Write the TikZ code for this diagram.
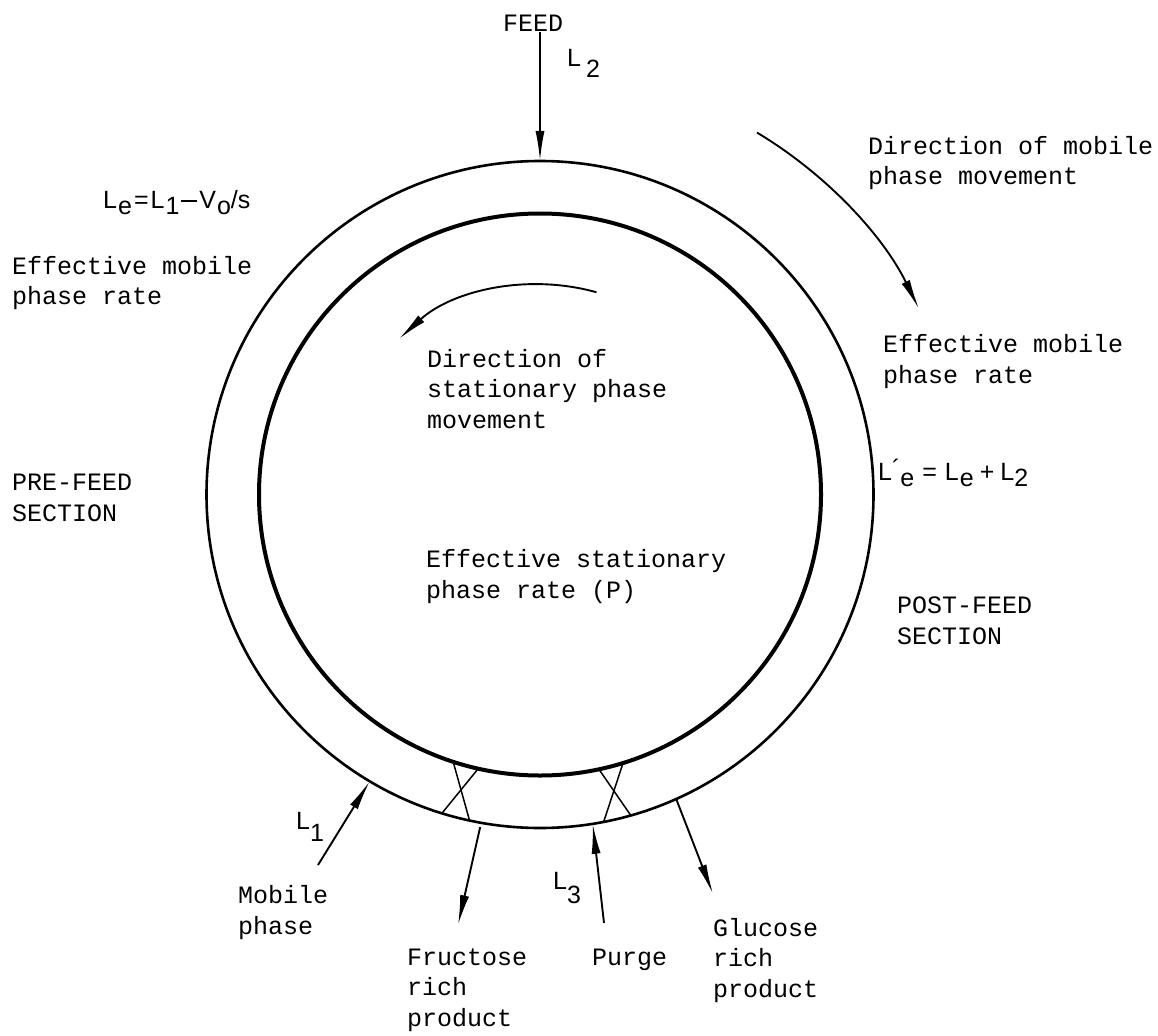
\documentclass[tikz,border=0pt]{standalone}
\usepackage{fontspec}
\newfontfamily\mono{Liberation Mono}
\newfontfamily\lsans{Liberation Sans}
\usetikzlibrary{arrows.meta,calc}
\newcommand{\dn}[2]{\raisebox{-#1}{#2}}
\newcommand{\minusbar}{\rule[6.5pt]{16pt}{1.9pt}}
\tikzset{
  txt/.style={font=\mono\fontsize{25}{30.5}\selectfont, inner sep=0pt, align=left, anchor=base west},
  lab/.style={font=\lsans\fontsize{25}{28}\selectfont, inner sep=0pt, anchor=base west},
  ring/.style={line width=2.6pt},
  ringin/.style={line width=4pt},
  arr/.style={line width=1.9pt, -{Latex[length=30pt,width=9pt]}},
  cross/.style={line width=1.5pt},
}
\begin{document}
\begin{tikzpicture}[x=1pt,y=-1pt]
\useasboundingbox (0,0) rectangle (1158,1035);
\coordinate (c) at (540,494.5);
% rings
\draw[ring] (c) circle[radius=333.5];
\draw[ringin] (c) circle[radius=281];
% texts (multi-line nodes are placed at the baseline of their last line)
\node[txt, anchor=base] (feed) at (533,32) {FEED};
\node[lab] (l2) at (567,67) {L\hspace{5pt}\dn{11pt}{2}};
\node[lab] (le) at (103,208) {L\hspace{1pt}\dn{6pt}{e}\hspace{2pt}=\hspace{2pt}L\hspace{1pt}\dn{6pt}{1}\hspace{2pt}\minusbar\hspace{2pt}V\hspace{1pt}\dn{6pt}{o}/s};
\node[txt] (effL) at (12,304.5) {Effective mobile\\phase rate};
\node[txt] (pre) at (12,521) {PRE-FEED\\SECTION};
\node[txt] (dirM) at (868,185) {Direction of mobile\\phase movement};
\node[txt] (effR) at (883,383) {Effective mobile\\phase rate};
\node[lab] (lep) at (878,480) {L\raisebox{3pt}{´}\dn{6pt}{e}\hspace{8pt}=\hspace{8pt}L\hspace{1pt}\dn{6pt}{e}\hspace{6pt}+\hspace{6pt}L\dn{6pt}{2}};
\node[txt] (post) at (897,644) {POST-FEED\\SECTION};
\node[txt] (dirS) at (427,428) {Direction of\\stationary phase\\movement};
\node[txt] (effS) at (426,598) {Effective stationary\\phase rate (P)};
\node[txt] (mob) at (238,934) {Mobile\\phase};
\node[txt] (fru) at (407,1026) {Fructose\\rich\\product};
\node[txt] (pur) at (592,965) {Purge};
\node[txt] (glu) at (713,997) {Glucose\\rich\\product};
\node[lab] (l1) at (296,829) {L\dn{12pt}{1}};
\node[lab] (l3) at (553,889) {L\dn{14pt}{3}};
% feed arrow
\coordinate (ftop) at ($(c)+(-90:333.5)$);
\draw[arr] (feed.south -| ftop) -- (ftop);
% direction arcs
\coordinate (mstart) at ($(c)+(-59.05:422)$);
\draw[arr] (mstart) arc[start angle=-59.05, end angle=-26.1, radius=422];
\coordinate (sstart) at ($(c)+(-74.4:210)$);
\draw[arr] (sstart) arc[start angle=-74.4, end angle=-132.2, radius=210];
% crosses
\draw[cross] ($(c)+(108:281)$) -- ($(c)+(102.2:333.5)$);
\draw[cross] ($(c)+(102.7:281)$) -- ($(c)+(107.1:333.5)$);
\draw[cross] ($(c)+(77.9:281)$) -- ($(c)+(74.2:333.5)$);
\draw[cross] ($(c)+(72.8:281)$) -- ($(c)+(79:333.5)$);
% bottom arrows
\coordinate (mobT) at ($(c)+(120.7:333.5)$);
\coordinate (mobS) at (318,865);
\draw[arr] (mobS) -- (mobT);
\coordinate (fruS) at ($(c)+(100.2:338)$);
\coordinate (fruT) at (458,925);
\draw[arr] (fruS) -- (fruT);
\coordinate (purT) at ($(c)+(80.9:333.5)$);
\coordinate (purS) at (604,923);
\draw[arr] (purS) -- (purT);
\coordinate (gluS) at ($(c)+(65.9:333.5)$);
\coordinate (gluT) at (713,894);
\draw[arr] (gluS) -- (gluT);
\end{tikzpicture}
\end{document}
